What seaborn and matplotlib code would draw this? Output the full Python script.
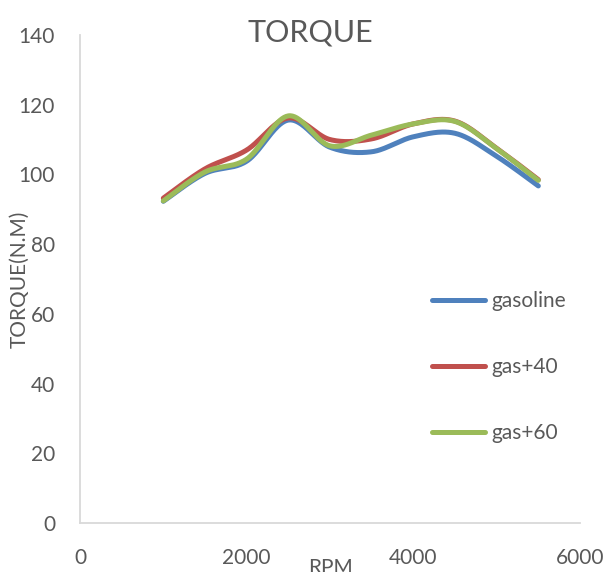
import numpy as np
import pandas as pd
import matplotlib
matplotlib.use("Agg")
import matplotlib.pyplot as plt
import seaborn as sns

# Engine torque test data
rpm = [1000, 1500, 2000, 2500, 3000, 3500, 4000, 4500, 5000, 5500]
gasoline = [92.3, 100.3, 103.8, 115.6, 107.8, 106.5, 110.8, 111.8, 105.2, 96.7]
gas_40 = [93.2, 101.6, 107.0, 116.2, 110.0, 110.2, 114.5, 115.3, 107.5, 98.5]
gas_60 = [92.4, 100.7, 104.4, 116.8, 108.2, 111.3, 114.5, 115.2, 107.4, 98.3]

series_names = ["gasoline", "gas+40", "gas+60"]
series_colors = ["#4F81BD", "#C0504D", "#9BBB59"]
x_ticks = [0, 2000, 4000, 6000]
y_ticks = [0, 20, 40, 60, 80, 100, 120, 140]


def smooth_curve(xs, ys, n=40):
    """Catmull-Rom style Bezier smoothing through every data point."""
    pts = np.column_stack([xs, ys]).astype(float)
    padded = np.vstack([pts[0], pts, pts[-1]])
    out = []
    t = np.linspace(0, 1, n)[:, None]
    for i in range(1, len(padded) - 2):
        p0, p1, p2, p3 = padded[i - 1], padded[i], padded[i + 1], padded[i + 2]
        c1 = p1 + (p2 - p0) / 6.0
        c2 = p2 - (p3 - p1) / 6.0
        seg = ((1 - t) ** 3) * p1 + 3 * ((1 - t) ** 2) * t * c1 \
            + 3 * (1 - t) * t ** 2 * c2 + t ** 3 * p2
        out.append(seg if i == 1 else seg[1:])
    return np.vstack(out)


frames = []
for name, vals in zip(series_names, [gasoline, gas_40, gas_60]):
    curve = smooth_curve(rpm, vals)
    frames.append(pd.DataFrame({"RPM": curve[:, 0], "torque": curve[:, 1],
                                "series": name}))
df = pd.concat(frames, ignore_index=True)

sns.set_theme(style="white")
plt.rcParams["font.family"] = ["Lato", "DejaVu Sans"]
text_color = "#595959"

fig = plt.figure(figsize=(6.05, 5.72), dpi=100)
ax = fig.add_axes([80 / 605, 1 - 523 / 572, 500 / 605, 488 / 572])

sns.lineplot(data=df, x="RPM", y="torque", hue="series", hue_order=series_names,
             palette=series_colors, sort=False, estimator=None,
             linewidth=3.6, ax=ax, legend=False)
for ln in ax.lines:
    ln.set_solid_capstyle("round")

ax.set_xlim(0, 6000)
ax.set_ylim(0, 140)
ax.set_xticks(x_ticks)
ax.set_yticks(y_ticks)
ax.tick_params(axis="both", length=0, labelsize=15, labelcolor=text_color)
ax.tick_params(axis="x", pad=18)
ax.tick_params(axis="y", pad=18)

for side in ["top", "right"]:
    ax.spines[side].set_visible(False)
for side in ["left", "bottom"]:
    ax.spines[side].set_color("#D9D9D9")
    ax.spines[side].set_linewidth(1.3)

ax.set_xlabel("RPM", fontsize=15, color=text_color)
ax.xaxis.set_label_coords(0.5, -0.072)
ax.xaxis.label.set_va("top")
ax.set_ylabel("TORQUE(N.M)", fontsize=15, color=text_color)
ax.yaxis.set_label_coords(-0.1, 0.5)

fig.text(310 / 605, 1 - 33 / 572, "TORQUE", fontsize=22, color=text_color,
         ha="center", va="center")

handles = [plt.Line2D([], [], color=c, linewidth=3.6, solid_capstyle="round")
           for c in series_colors]
leg = ax.legend(handles, series_names, loc="center left",
                bbox_to_anchor=(432 / 605, 1 - 367 / 572), bbox_transform=fig.transFigure,
                frameon=False, fontsize=15, handlelength=2.55, handletextpad=0.3,
                labelspacing=2.2, borderaxespad=0, borderpad=0)
for t in leg.get_texts():
    t.set_color(text_color)

fig.savefig("out.png", dpi=100)
